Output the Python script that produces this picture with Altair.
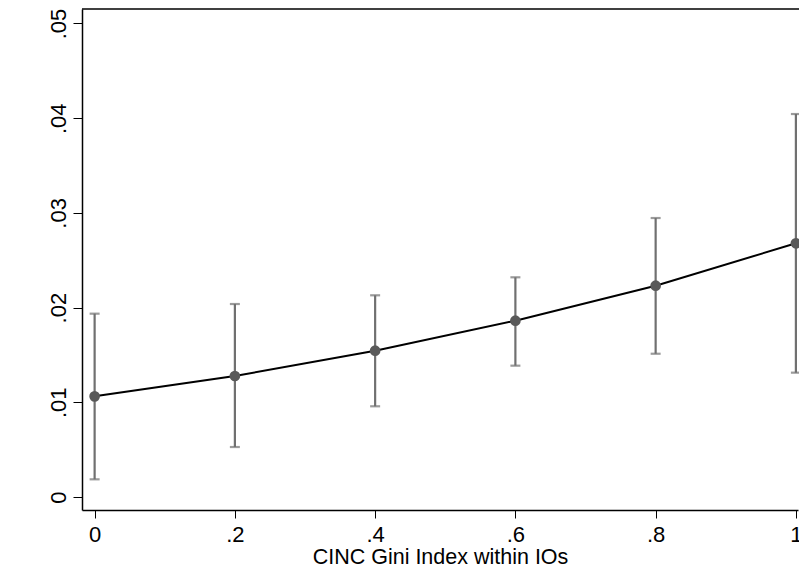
import altair as alt
import pandas as pd

gini = [0.0, 0.2, 0.4, 0.6, 0.8, 1.0]
effect = [0.01063, 0.01278, 0.01545, 0.01862, 0.02231, 0.02679]
lower = [0.00187, 0.00528, 0.00958, 0.01387, 0.01513, 0.01313]
upper = [0.01936, 0.02038, 0.02130, 0.02320, 0.02946, 0.04044]

y_ticks = [0, 0.01, 0.02, 0.03, 0.04, 0.05]
x_ticks = [0, 0.2, 0.4, 0.6, 0.8, 1.0]
x_title = "CINC Gini Index within IOs"

df = pd.DataFrame({"x": gini, "y": effect, "lo": lower, "hi": upper})

FONT = "Liberation Sans"
W, H = 716, 501

xscale = alt.Scale(domain=[-0.018, 1.003], nice=False, zero=False)
yscale = alt.Scale(domain=[-0.00137, 0.05153], nice=False, zero=False)

xaxis = alt.Axis(
    values=x_ticks,
    labelExpr="datum.value == 0 || datum.value == 1 ? format(datum.value, 'd') : replace(format(datum.value, '.1f'), '0.', '.')",
    title=x_title, grid=False, domainColor="black", domainWidth=1.5,
    tickColor="black", tickWidth=1, tickSize=8, labelPadding=6,
    labelFont=FONT, labelFontSize=22, labelColor="black",
    titleFont=FONT, titleFontSize=21.5, titleFontWeight="normal", titleColor="black",
    titlePadding=1, labelFlush=False,
)
yaxis = alt.Axis(
    values=y_ticks,
    labelExpr="datum.value == 0 ? '0' : replace(format(datum.value, '.2f'), '0.', '.')",
    title=None, grid=False, domainColor="black", domainWidth=1.5,
    tickColor="black", tickWidth=1, tickSize=9, labelPadding=8,
    labelAngle=270, labelAlign="center", labelBaseline="alphabetic",
    labelFont=FONT, labelFontSize=22, labelColor="black", labelFlush=False,
)

base = alt.Chart(df)

bars = base.mark_rule(color="#707070", strokeWidth=2.2).encode(
    x=alt.X("x:Q", scale=xscale, axis=xaxis),
    y=alt.Y("lo:Q", scale=yscale, axis=yaxis),
    y2="hi:Q",
)
cap_lo = base.mark_tick(orient="horizontal", color="#707070", size=10, thickness=2.2).encode(
    x=alt.X("x:Q", scale=xscale), y=alt.Y("lo:Q", scale=yscale)
)
cap_hi = base.mark_tick(orient="horizontal", color="#707070", size=10, thickness=2.2).encode(
    x=alt.X("x:Q", scale=xscale), y=alt.Y("hi:Q", scale=yscale)
)
line = base.mark_line(color="black", strokeWidth=2).encode(
    x=alt.X("x:Q", scale=xscale), y=alt.Y("y:Q", scale=yscale)
)
pts = base.mark_point(filled=True, shape="circle", size=115, color="#595959", opacity=1).encode(
    x=alt.X("x:Q", scale=xscale), y=alt.Y("y:Q", scale=yscale)
)
top = alt.Chart(pd.DataFrame({"a": [0]})).mark_rule(color="black", strokeWidth=1.5).encode(
    x=alt.value(0), x2=alt.value(W + 2), y=alt.value(0)
)

chart = alt.layer(bars, cap_lo, cap_hi, line, pts, top).properties(
    width=W, height=H,
    autosize=alt.AutoSizeParams(type="none"),
    padding={"left": 82, "top": 9, "right": 1, "bottom": 61},
    background="white",
).configure_view(stroke=None)

chart.save("out.html", embed_options={"renderer": "svg", "actions": False})
